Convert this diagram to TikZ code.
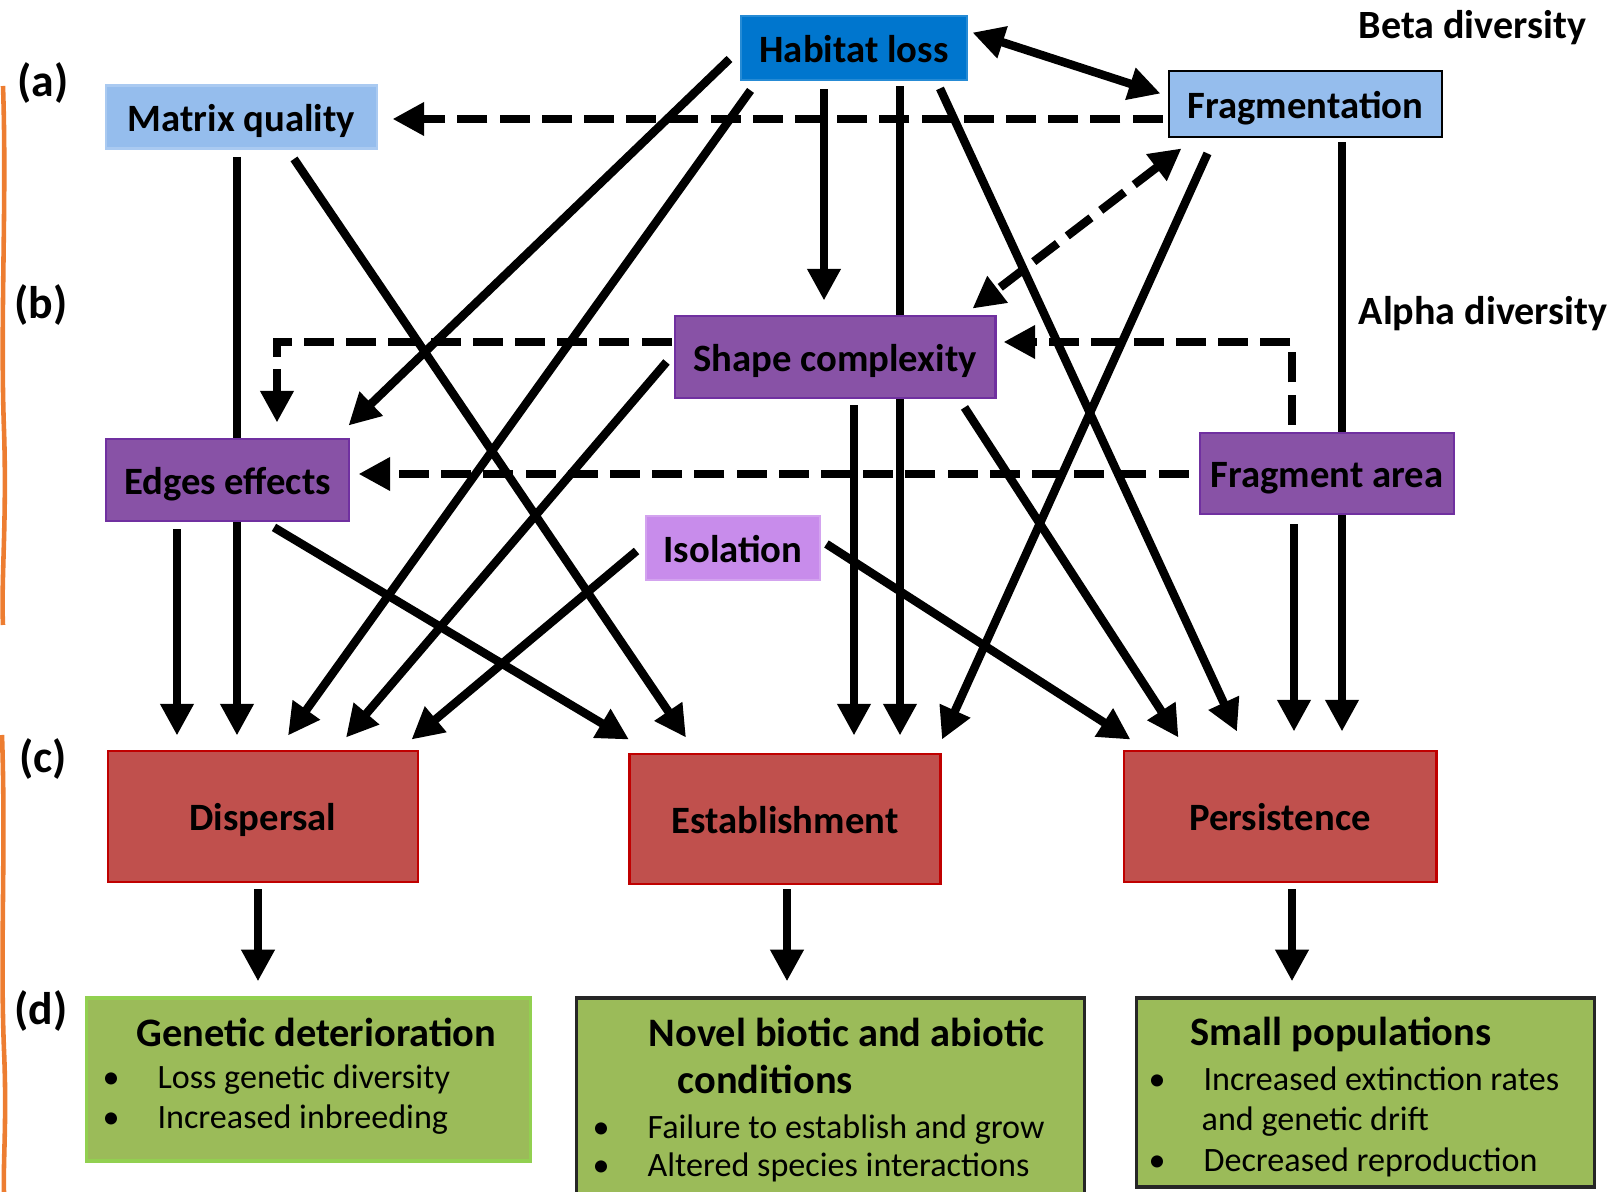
\documentclass[tikz,border=0pt]{standalone}
\usepackage{fontspec}
\setmainfont{Carlito}
\usetikzlibrary{
    arrows.meta,
    calc,
    backgrounds
}
\definecolor{lossblue}{RGB}{0,118,206}
\definecolor{fragblue}{RGB}{149,189,237}
\definecolor{patchpurple}{RGB}{136,82,166}
\definecolor{patchline}{RGB}{112,48,160}
\definecolor{isopurple}{RGB}{200,140,235}
\definecolor{procred}{RGB}{192,80,77}
\definecolor{procline}{RGB}{192,0,0}
\definecolor{effgreen}{RGB}{155,187,89}
\definecolor{effline}{RGB}{146,208,80}
\definecolor{edgeorange}{RGB}{237,125,49}
\newcommand{\bulletmark}{\makebox[15.6pt][l]{\textbullet}}
\tikzset{>={Triangle[length=9pt, width=9pt]}}
\tikzset{box/.style={inner sep=0pt, line width=0.8pt, text height=8.5pt, text depth=0.5pt, font=\fontsize{11}{13}\selectfont\bfseries}}
\tikzset{effbox/.style={inner sep=0pt, line width=0.9pt, fill=effgreen}}
\tikzset{paneltag/.style={inner sep=0pt, font=\fontsize{13}{15}\selectfont\bfseries}}
\tikzset{divlabel/.style={inner sep=0pt, anchor=base west, font=\fontsize{11.4}{13}\selectfont\bfseries}}
\tikzset{effhead/.style={inner sep=0pt, anchor=base west, font=\fontsize{11.5}{14}\selectfont\bfseries}}
\tikzset{bitem/.style={inner sep=0pt, anchor=base west, font=\fontsize{9.7}{12}\selectfont}}
\tikzset{link/.style={line width=2.4pt}}
\tikzset{dlink/.style={line width=2.4pt, dash pattern=on 8.5pt off 3.5pt}}
\tikzset{orangeline/.style={draw=edgeorange, line width=1.3pt}}

\begin{document}
\begin{tikzpicture}[x=0.01cm, y=-0.01cm]
    \useasboundingbox (0, 0) rectangle (1623, 1192);

    \draw[orangeline] (3, 86) .. controls (7, 200) and (0, 320) .. (4, 430) .. controls (7, 520) and (1, 580) .. (3, 625);
    \draw[orangeline] (2, 735) .. controls (6, 850) and (0, 950) .. (4, 1050) .. controls (7, 1120) and (3, 1160) .. (4, 1192);

    \node[paneltag] (taga) at (43, 83) {(a)};
    \node[paneltag] (tagb) at (41, 305) {(b)};
    \node[paneltag] (tagc) at (43, 759) {(c)};
    \node[paneltag] (tagd) at (41, 1011) {(d)};
    \node[divlabel] (beta) at (1358, 39) {Beta diversity};
    \node[divlabel] (alpha) at (1358, 325) {Alpha diversity};

    \node[box, fill=lossblue, draw=lossblue!85!white, minimum width=2.26cm, minimum height=0.64cm] (hab) at (854, 48) {Habitat loss};
    \node[box, fill=fragblue, draw=black, minimum width=2.73cm, minimum height=0.66cm] (frag) at (1305.5, 104) {Fragmentation};
    \node[box, fill=fragblue, draw=fragblue!80!white, minimum width=2.71cm, minimum height=0.63cm] (matrix) at (241.5, 117) {Matrix quality};
    \node[box, fill=patchpurple, draw=patchline, minimum width=3.2cm, minimum height=0.82cm] (shape) at (835, 357) {Shape complexity};
    \node[box, fill=patchpurple, draw=patchline, minimum width=2.43cm, minimum height=0.82cm] (edges) at (227.5, 480) {Edges effects};
    \node[box, fill=patchpurple, draw=patchline, minimum width=2.54cm, minimum height=0.81cm] (farea) at (1327, 473.5) {Fragment area};
    \node[box, fill=isopurple, draw=isopurple!80!white, minimum width=1.74cm, minimum height=0.64cm] (iso) at (733, 548) {Isolation};
    \node[box, fill=procred, draw=procline, minimum width=3.1cm, minimum height=1.31cm] (disp) at (263, 816.5) {Dispersal};
    \node[box, fill=procred, draw=procline, minimum width=3.11cm, minimum height=1.3cm] (est) at (785, 819) {Establishment};
    \node[box, fill=procred, draw=procline, minimum width=3.12cm, minimum height=1.31cm] (pers) at (1280, 816.5) {Persistence};
    \node[effbox, draw=effline, minimum width=4.43cm, minimum height=1.63cm] (gen) at (308.5, 1079.5) {};
    \node[effbox, draw=black!85, minimum width=5.07cm, minimum height=2cm] (novel) at (830.5, 1098) {};
    \node[effbox, draw=black!85, minimum width=4.57cm, minimum height=1.89cm] (small) at (1365.5, 1092.5) {};

    \node[effhead] (gentitle) at (136, 1047) {Genetic deterioration};
    \node[bitem] (gen1) at (102, 1089) {\bulletmark Loss genetic diversity};
    \node[bitem] (gen2) at (102, 1129) {\bulletmark Increased inbreeding};
    \node[effhead] (noveltitle) at (648, 1047) {Novel biotic and abiotic};
    \node[effhead] (noveltitleb) at (677, 1094) {conditions};
    \node[bitem] (novel1) at (592, 1139) {\bulletmark Failure to establish and grow};
    \node[bitem] (novel2) at (592, 1177) {\bulletmark Altered species interactions};
    \node[effhead] (smalltitle) at (1190, 1046) {Small populations};
    \node[bitem] (small1) at (1148, 1091) {\bulletmark Increased extinction rates};
    \node[bitem] (small1b) at (1201, 1131) {and genetic drift};
    \node[bitem] (small2) at (1148, 1172) {\bulletmark Decreased reproduction};

    \begin{scope}[on background layer]
        \draw[link]
        ($(hab.west)+(-10, 11)$) edge[->] ($(edges.north east)+(-2, -12)$)
        ($(hab.south west)+(11, 9)$) edge[->] ($(disp.north)+(25, -14)$)
        ($(hab.south)+(-30, 8)$) edge[->] ($(shape.north)+(-11, -14)$)
        ($(hab.south)+(46, 5)$) edge[->] ($(est.north)+(115, -17)$)
        ($(hab.south)+(86, 7)$) edge[->] ($(pers.north)+(-43, -18)$)
        ($(hab.north east)+(4, 18)$) edge[<->] ($(frag.north west)+(-7, 24)$)
        ($(frag.south west)+(40, 15)$) edge[->] ($(est.north east)+(0, -13)$)
        ($(frag.south)+(36.5, 4)$) edge[->] ($(pers.north)+(62, -18)$)
        ($(matrix.south)+(-4.5, 7)$) edge[->] ($(disp.north)+(-26, -14)$)
        ($(matrix.south)+(52.5, 9)$) edge[->] ($(est.north west)+(58, -15)$)
        ($(shape.west)+(-7, 5)$) edge[->] ($(disp.north)+(83, -12)$)
        ($(shape.south)+(19, 6)$) edge[->] ($(est.north)+(69, -17)$)
        ($(shape.south east)+(-32, 8)$) edge[->] ($(pers.north west)+(56, -12)$)
        ($(farea.south)+(-33, 9)$) edge[->] ($(pers.north)+(14, -18)$)
        ($(edges.south)+(-50.5, 7)$) edge[->] ($(disp.north)+(-86, -14)$)
        ($(edges.south)+(46.5, 5)$) edge[->] ($(est.north west)+(1, -13)$)
        ($(iso.west)+(-8, 3)$) edge[->] ($(disp.north east)+(-8, -10)$)
        ($(iso.east)+(5, -4)$) edge[->] ($(pers.north west)+(8, -10)$)
        ($(disp.south)+(-5, 6)$) edge[->] ($(gen.north)+(-50.5, -15)$)
        ($(est.south)+(2, 4)$) edge[->] ($(novel.north)+(-43.5, -15)$)
        ($(pers.south)+(12, 6)$) edge[->] ($(small.north)+(-73.5, -15)$);
        \draw[dlink]
        ($(frag.west)+(-5, 15)$) edge[->] ($(matrix.east)+(14, 2)$)
        ($(frag.south west)+(14, 10)$) edge[<->] ($(shape.north east)+(-24, -6)$)
        ($(farea.west)+(-10, 0.5)$) edge[->] ($(edges.east)+(8, -6)$);
        \draw[dlink, ->] ($(shape.west)+(-2, -15)$) -| ($(edges.north)+(49.5, -15)$);
        \draw[dlink, ->] ($(farea.north)+(-35, -7)$) |- ($(shape.east)+(7, -15)$);
    \end{scope}
\end{tikzpicture}
\end{document}
